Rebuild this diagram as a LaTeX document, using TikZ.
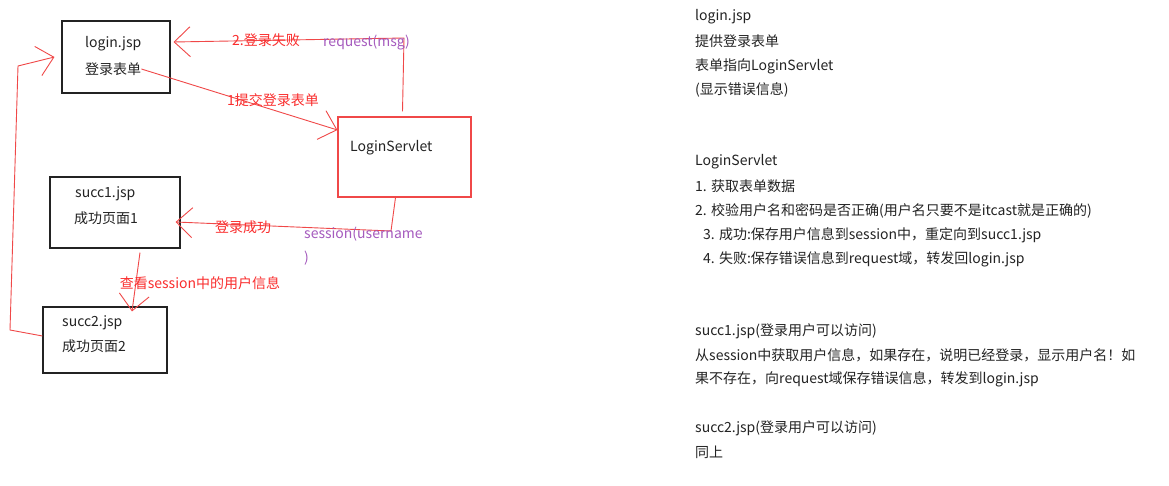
\documentclass[tikz,border=0pt]{standalone}
\usepackage{fontspec}
\setmainfont{Noto Sans CJK SC}
\usetikzlibrary{arrows.meta,positioning}

\definecolor{penred}{RGB}{240,72,72}
\definecolor{notered}{RGB}{250,45,45}
\definecolor{notepurple}{RGB}{165,90,190}
\definecolor{inkgray}{RGB}{35,35,35}

\tikzset{
  jspbox/.style={draw=inkgray, line width=1.1pt},
  servletbox/.style={draw=penred, line width=1.1pt},
  txt/.style={anchor=west, inner sep=0pt, text=inkgray},
  flow/.style={draw=penred, line width=0.9pt, -{Straight Barb[length=16pt,width=30pt]}},
  tag/.style={inner sep=0pt, text=notered},
  var/.style={anchor=west, inner sep=0pt, text=notepurple},
  note/.style={anchor=west, inner sep=0pt, text=inkgray}
}

\begin{document}
\begin{tikzpicture}[x=1pt,y=-1pt,font=\fontsize{14}{17}\selectfont]
        \useasboundingbox[fill=white] (0,0) rectangle (1169,486);

        % boxes
        \node[jspbox, minimum width=108pt, minimum height=72pt] (login) at (116,57) {};
        \node[servletbox, minimum width=133pt, minimum height=80pt] (servlet) at (404.5,157) {};
        \node[jspbox, minimum width=130pt, minimum height=71pt] (succ1) at (115,212.5) {};
        \node[jspbox, minimum width=124pt, minimum height=66pt] (succ2) at (105,340) {};

        \node[txt] (logintitle) at (85,44) {login.jsp};
        \node[txt] (loginform) at (85,69) {登录表单};
        \node[txt] (servlettitle) at (350,148) {LoginServlet};
        \node[txt] (succ1title) at (75,194) {succ1.jsp};
        \node[txt] (succ1page) at (74,218) {成功页面1};
        \node[txt] (succ2title) at (62,323) {succ2.jsp};
        \node[txt] (succ2page) at (62,346) {成功页面2};

        % turning points
        \coordinate (failtop) at (404,38);
        \coordinate (okturn) at (391,231);
        \coordinate (loopbottom) at (10,330);
        \coordinate (looptop) at (18,66);

        \draw[flow] (loginform.east) -- ([yshift=27pt]servlet.west);
        \draw[flow] ([xshift=-2pt,yshift=5pt]servlet.north) -- (failtop) -- ([xshift=3pt,yshift=15pt]login.east);
        \draw[flow] ([xshift=-9pt]servlet.south) -- (okturn) -- ([xshift=-5pt,yshift=-9.5pt]succ1.east);
        \draw[flow] ([xshift=25pt,yshift=-4pt]succ1.south) -- ([xshift=27pt,yshift=-5pt]succ2.north);
        \draw[flow] ([yshift=4pt]succ2.west) -- (loopbottom) -- (looptop) -- ([xshift=-7pt]login.west);

        \node[tag] (submitlbl) at (273,100) {1提交登录表单};
        \node[tag] (faillbl) at (266,40) {2.登录失败};
        \node[var] (msglbl) at (323,43) {request(msg)};
        \node[tag] (oklbl) at (243,227) {登录成功};
        \node[var] (userlbl) at (304,234) {session(username};
        \node[var] (userclose) at (304,258) {)};
        \node[tag] (viewlbl) at (200,283) {查看session中的用户信息};

        % notes on the right
        \foreach \x/\y/\t in {695/17/{login.jsp}, 695/41/{提供登录表单}, 695/66/{表单指向LoginServlet}, 695/90/{(显示错误信息)},
            695/162/{LoginServlet}, 695/186/{1. 获取表单数据}, 695/211/{2. 校验用户名和密码是否正确(用户名只要不是itcast就是正确的)},
            703/235/{3. 成功:保存用户信息到session中，重定向到succ1.jsp}, 703/259/{4. 失败:保存错误信息到request域，转发回login.jsp},
            695/331/{succ1.jsp(登录用户可以访问)}, 695/355/{从session中获取用户信息，如果存在，说明已经登录，显示用户名！如},
            695/379/{果不存在，向request域保存错误信息，转发到login.jsp},
            695/428/{succ2.jsp(登录用户可以访问)}, 695/452/{同上}}
            {\node[note] (note\y) at (\x,\y) {\t};}

    \end{tikzpicture}
\end{document}
